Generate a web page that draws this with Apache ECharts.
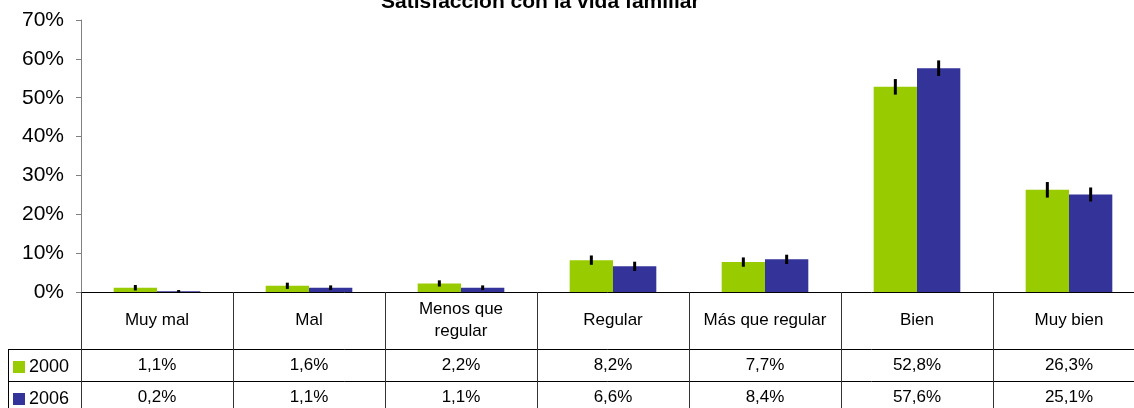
<!DOCTYPE html>
<html>
<head>
<meta charset="utf-8">
<script src="https://cdn.jsdelivr.net/npm/echarts@6/dist/echarts.min.js"></script>
<style>
  html, body { margin: 0; padding: 0; background: #fff; }
  #main { width: 1134px; height: 408px; }
</style>
</head>
<body>
<div id="main"></div>
<script>
  // categorias y valores (%)
  const categories = ['Muy mal', 'Mal', 'Menos que\nregular', 'Regular', 'Más que regular', 'Bien', 'Muy bien']
  const values2000 = [1.1, 1.6, 2.2, 8.2, 7.7, 52.8, 26.3]
  const values2006 = [0.2, 1.1, 1.1, 6.6, 8.4, 57.6, 25.1]
  // semiamplitud de las barras de error (estimada)
  const err2000 = [0.7, 0.8, 0.8, 1.2, 1.2, 2.0, 2.0]
  const err2006 = [0.3, 0.6, 0.6, 1.2, 1.2, 2.0, 1.8]
  const yTicks = { min: 0, max: 70, interval: 10 }

  const GREEN = '#99CC00'
  const BLUE = '#333399'
  const GAP = 0.43

  const fmt = v => v.toFixed(1).replace('.', ',') + '%'

  function errorSeries(name, vals, errs, side) {
    return {
      name: name + ' err',
      type: 'custom',
      z: 5,
      silent: true,
      data: vals.map((v, i) => [i, v, errs[i]]),
      renderItem(params, api) {
        const band = api.size([1, 0])[0]
        const dx = side * band * (1 - GAP) / 4
        const lo = api.coord([api.value(0), api.value(1) - api.value(2)])
        const hi = api.coord([api.value(0), api.value(1) + api.value(2)])
        return {
          type: 'line',
          shape: { x1: lo[0] + dx, y1: lo[1], x2: hi[0] + dx, y2: hi[1] },
          style: { stroke: '#000', lineWidth: 3 }
        }
      }
    }
  }

  const tableLabel = { fontSize: 17, color: '#000', fontFamily: 'Liberation Sans', margin: 16, verticalAlign: 'middle', interval: 0 }

  let chart = echarts.init(document.getElementById('main'))
  let option = {
    animation: false,
    textStyle: { fontFamily: 'Liberation Sans' },
    title: {
      text: 'Satisfacción con la vida familiar',
      left: 381,
      top: -8,
      padding: 0,
      textStyle: { fontSize: 21, fontWeight: 'bold', color: '#000', lineHeight: 21, fontFamily: 'Liberation Sans' }
    },
    legend: [
      {
        data: [{ name: '2000', icon: 'rect' }],
        left: 13, top: 358, padding: 0,
        itemWidth: 12, itemHeight: 12, itemGap: 4,
        textStyle: { fontSize: 18, color: '#000', padding: [0, 0, 0, -1] }
      },
      {
        data: [{ name: '2006', icon: 'rect' }],
        left: 13, top: 390, padding: 0,
        itemWidth: 12, itemHeight: 12, itemGap: 4,
        textStyle: { fontSize: 18, color: '#000', padding: [0, 0, 0, -1] }
      }
    ],
    grid: { left: 81, top: 20, width: 1064, bottom: 116, outerBoundsMode: 'none', containLabel: false },
    xAxis: [
      {
        type: 'category',
        data: categories,
        axisLine: { lineStyle: { color: '#000', width: 1 } },
        axisTick: { show: true, alignWithLabel: false, interval: 0, length: 118, lineStyle: { color: '#333' } },
        axisLabel: { fontSize: 17, color: '#000', margin: 28, verticalAlign: 'middle', lineHeight: 22, interval: 0 }
      },
      {
        type: 'category',
        data: values2000.map(fmt),
        position: 'bottom',
        offset: 57,
        axisLine: { lineStyle: { color: '#000', width: 1 } },
        axisTick: { show: false },
        axisLabel: tableLabel
      },
      {
        type: 'category',
        data: values2006.map(fmt),
        position: 'bottom',
        offset: 89,
        axisLine: { lineStyle: { color: '#000', width: 1 } },
        axisTick: { show: false },
        axisLabel: tableLabel
      }
    ],
    yAxis: {
      type: 'value',
      min: yTicks.min,
      max: yTicks.max,
      interval: yTicks.interval,
      splitLine: { show: false },
      axisLine: { show: true, lineStyle: { color: '#808080' } },
      axisTick: { show: true, length: 5, lineStyle: { color: '#808080' } },
      axisLabel: { fontSize: 21, color: '#000', margin: 17, formatter: '{value}%' }
    },
    series: [
      { name: '2000', type: 'bar', data: values2000, itemStyle: { color: GREEN }, barGap: 0, barCategoryGap: '43%' },
      { name: '2006', type: 'bar', data: values2006, itemStyle: { color: BLUE }, barGap: 0, barCategoryGap: '43%' },
      errorSeries('2000', values2000, err2000, -1),
      errorSeries('2006', values2006, err2006, 1)
    ],
    graphic: [
      { type: 'line', shape: { x1: 8, y1: 349.5, x2: 81, y2: 349.5 }, style: { stroke: '#000', lineWidth: 1 } },
      { type: 'line', shape: { x1: 8, y1: 381.5, x2: 81, y2: 381.5 }, style: { stroke: '#000', lineWidth: 1 } },
      { type: 'line', shape: { x1: 8.5, y1: 349, x2: 8.5, y2: 408 }, style: { stroke: '#000', lineWidth: 1 } }
    ]
  }
  option && chart.setOption(option)
  window.onresize = () => chart.resize()
</script>
</body>
</html>
